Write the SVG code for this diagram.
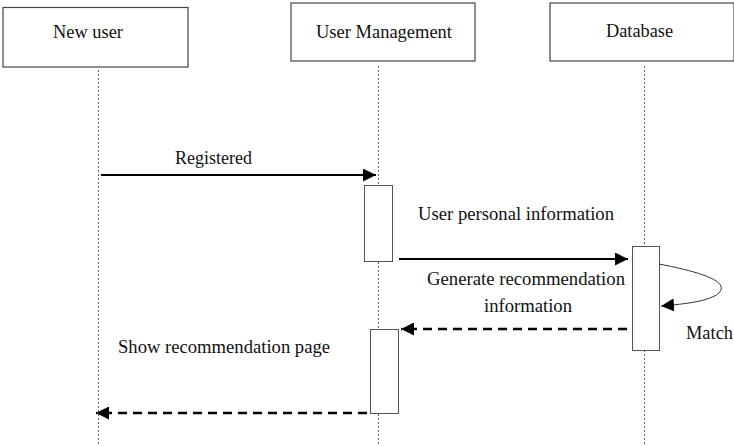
<svg xmlns="http://www.w3.org/2000/svg" width="734" height="446" viewBox="0 0 734 446">
  <style>
    .label { font-family: 'Liberation Serif', 'Times New Roman', 'DejaVu Serif', serif; font-size: 18.5px; fill: #111; }
    .head { fill: #fff; stroke: #444; stroke-width: 1.2; }
    .act { fill: #fff; stroke: #555; stroke-width: 1; }
    .life { stroke: #666; stroke-width: 1; stroke-dasharray: 2 2; fill: none; }
    .msg { stroke: #000; stroke-width: 2; fill: none; }
    .ret { stroke: #000; stroke-width: 2.5; stroke-dasharray: 9 6; fill: none; }
    .self { stroke: #333; stroke-width: 1; fill: none; }
  </style>
  <defs>
    <marker id="arrow" viewBox="0 0 13 13" refX="13" refY="6.5" markerWidth="13" markerHeight="13" markerUnits="userSpaceOnUse" orient="auto">
      <path d="M0,0 L13,6.5 L0,13 Z" fill="#000"/>
    </marker>
  </defs>
  <rect width="734" height="446" fill="#fff"/>

  <!-- lifelines -->
  <g id="lifelines">
    <line class="life" x1="98.5" y1="70" x2="98.5" y2="446"/>
    <line class="life" x1="378.5" y1="66" x2="378.5" y2="446"/>
    <line class="life" x1="644.5" y1="66" x2="644.5" y2="446"/>
  </g>

  <!-- participants -->
  <g id="new-user">
    <rect class="head" x="3" y="7.5" width="185" height="59.5"/>
    <text class="label" x="53" y="38" textLength="70" lengthAdjust="spacingAndGlyphs">New user</text>
  </g>
  <g id="user-management">
    <rect class="head" x="291" y="3" width="184" height="58"/>
    <text class="label" x="316" y="38" textLength="136" lengthAdjust="spacingAndGlyphs">User Management</text>
  </g>
  <g id="database">
    <rect class="head" x="550" y="3" width="184" height="58"/>
    <text class="label" x="606" y="37" textLength="67" lengthAdjust="spacingAndGlyphs">Database</text>
  </g>

  <!-- activation bars -->
  <g id="um-activation-1"><rect class="act" x="364.5" y="185.5" width="28" height="76"/></g>
  <g id="db-activation"><rect class="act" x="632.5" y="246.5" width="27" height="104"/></g>
  <g id="um-activation-2"><rect class="act" x="370.5" y="329.5" width="28" height="84"/></g>

  <!-- messages -->
  <g id="connectors">
    <line class="msg" x1="101" y1="175" x2="376" y2="175" marker-end="url(#arrow)"/>
    <line class="msg" x1="399" y1="259" x2="628" y2="259" marker-end="url(#arrow)"/>
    <path class="self" d="M659,264 C700,272 730,281 719,293 C710,301 686,304 661,306" marker-end="url(#arrow)"/>
    <line class="ret" x1="627" y1="329" x2="401" y2="329" marker-end="url(#arrow)"/>
    <line class="ret" x1="367" y1="413" x2="96" y2="413" marker-end="url(#arrow)"/>
  </g>

  <!-- message labels -->
  <g id="labels">
    <text class="label" x="175" y="164" textLength="77" lengthAdjust="spacingAndGlyphs">Registered</text>
    <text class="label" x="418" y="220" textLength="196" lengthAdjust="spacingAndGlyphs">User personal information</text>
    <text class="label" x="427" y="285" textLength="198" lengthAdjust="spacingAndGlyphs">Generate recommendation</text>
    <text class="label" x="484" y="312" textLength="88" lengthAdjust="spacingAndGlyphs">information</text>
    <text class="label" x="686" y="339" textLength="47" lengthAdjust="spacingAndGlyphs">Match</text>
    <text class="label" x="118" y="353" textLength="212" lengthAdjust="spacingAndGlyphs">Show recommendation page</text>
  </g>
</svg>
